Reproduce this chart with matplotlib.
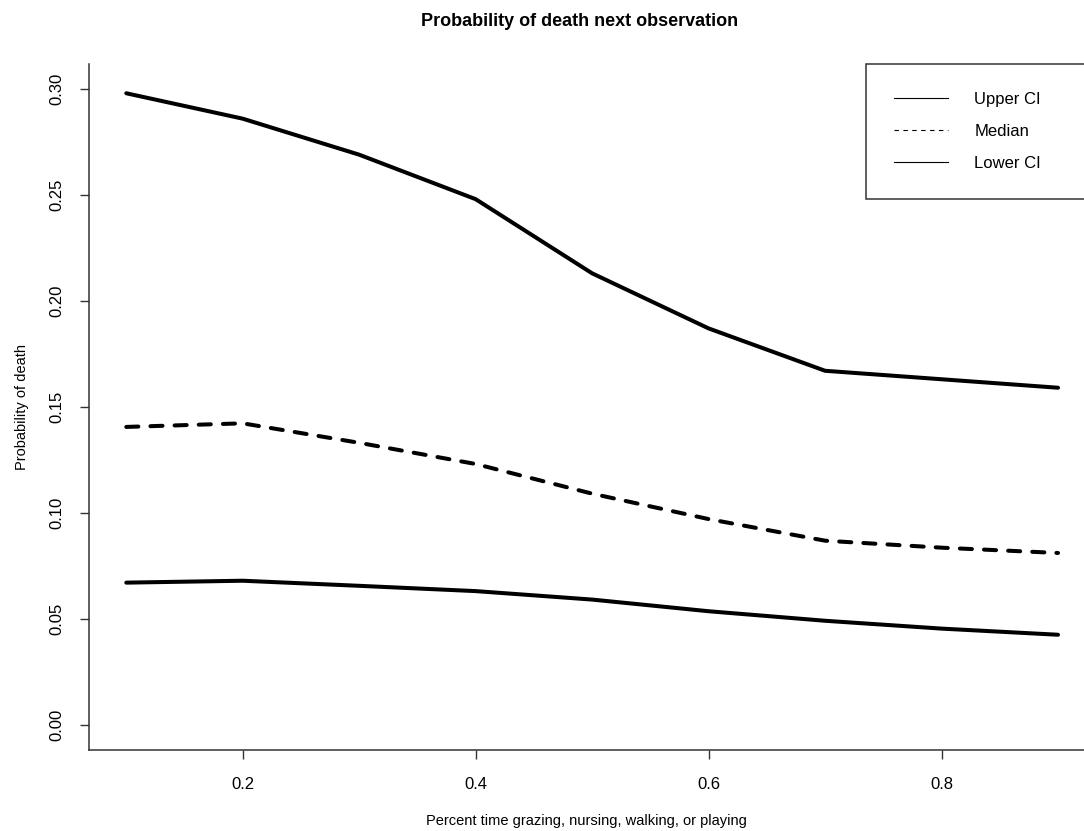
import numpy as np
import matplotlib
matplotlib.use("Agg")
import matplotlib.pyplot as plt
from matplotlib.lines import Line2D

plt.rcParams['font.family'] = ['Liberation Sans', 'DejaVu Sans']

# values
pct_time = [0.1, 0.2, 0.3, 0.4, 0.5, 0.6, 0.7, 0.8, 0.9]
upper_ci = [0.298, 0.286, 0.269, 0.248, 0.213, 0.187, 0.167, 0.163, 0.159]
median = [0.1405, 0.1422, 0.133, 0.123, 0.109, 0.097, 0.0868, 0.0835, 0.081]
lower_ci = [0.067, 0.0679, 0.0655, 0.063, 0.059, 0.0535, 0.049, 0.0453, 0.0424]
legend_labels = ["Upper CI", "Median", "Lower CI"]

W, H = 1084, 831
fig = plt.figure(figsize=(W / 100, H / 100), dpi=100)
# plot region runs off the right edge of the picture, like the original crop
ax = fig.add_axes([89 / W, (H - 750) / H, (W - 89) / W, (750 - 63.6) / H])

lw = 2.9
ax.plot(pct_time, upper_ci, color='black', lw=lw, solid_joinstyle='round', solid_capstyle='round')
ax.plot(pct_time, median, color='black', lw=lw, linestyle=(0, (3, 3)),
        dash_capstyle='round', dash_joinstyle='round')
ax.plot(pct_time, lower_ci, color='black', lw=lw, solid_joinstyle='round', solid_capstyle='round')

ax.set_xlim(0.068, 0.9223)
ax.set_ylim(-0.012, 0.312)
ax.set_xticks([0.2, 0.4, 0.6, 0.8])
ax.set_xticklabels(["0.2", "0.4", "0.6", "0.8"])
ax.set_yticks([0.0, 0.05, 0.10, 0.15, 0.20, 0.25, 0.30])
ax.set_yticklabels(["0.00", "0.05", "0.10", "0.15", "0.20", "0.25", "0.30"],
                   rotation=90, va='center')
ax.tick_params(axis='both', length=6.5, width=1.0, pad=13, labelsize=12, color='#333333')
ax.tick_params(axis='y', pad=11)

for s in ['top', 'right']:
    ax.spines[s].set_visible(False)
for s in ['left', 'bottom']:
    ax.spines[s].set_linewidth(1.1)
    ax.spines[s].set_color('#333333')

ax.set_xlabel("Percent time grazing, nursing, walking, or playing", fontsize=10.5, labelpad=16)
ax.set_ylabel("Probability of death", fontsize=10.5, labelpad=15)
fig.text(580 / W, 1 - 22 / H, "Probability of death next observation",
         ha='center', va='center', fontsize=13, fontweight='bold')

handles = [Line2D([], [], color='black', lw=0.8),
           Line2D([], [], color='black', lw=0.8, linestyle=(0, (4, 4))),
           Line2D([], [], color='black', lw=0.8)]
# legend box: left edge at x=866, top at plot top, extending beyond the right edge
x0 = (866 - 89) / (W - 89)
leg = ax.legend(handles, legend_labels, loc='upper left', mode='expand',
                bbox_to_anchor=(x0, 1.0, 1.2 - x0, 0.0), borderaxespad=0,
                fontsize=12, handlelength=3.2, handletextpad=1.6,
                borderpad=1.7, labelspacing=1.02, fancybox=False,
                edgecolor='#333333', framealpha=1)
leg.get_frame().set_linewidth(1.1)

fig.savefig("out.png", dpi=100, facecolor='white')
